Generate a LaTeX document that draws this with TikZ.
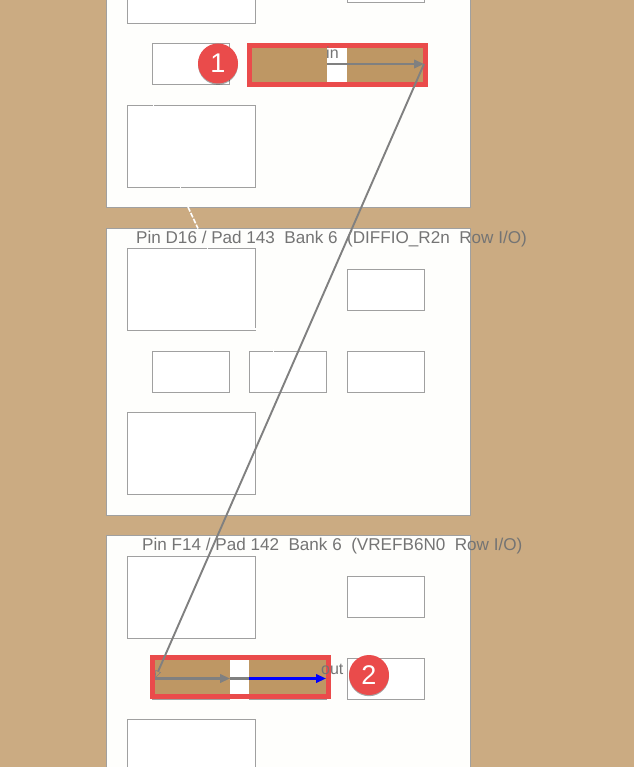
\documentclass[tikz,border=0pt]{standalone}
\usepackage{fontspec}
\setmainfont{Liberation Sans}
\usetikzlibrary{arrows.meta,shadows}
\definecolor{bgtan}{HTML}{CBAB82}
\definecolor{paneli}{HTML}{FEFEFC}
\definecolor{edge}{HTML}{A0A0A0}
\definecolor{sel}{HTML}{BE9764}
\definecolor{redb}{HTML}{EA4B4B}
\definecolor{wire}{HTML}{808080}
\definecolor{lbl}{HTML}{747474}
\tikzset{
 x=1pt,y=-1pt,
 panel/.style={draw=edge,fill=paneli,line width=.9pt},
 lab/.style={draw=edge,fill=white,line width=.9pt},
 selfill/.style={fill=sel},
 frame/.style={draw=redb,line width=5pt,miter limit=10},
 wirearrow/.style={draw=wire,line width=2.2pt,-{Triangle[length=10pt,width=8.5pt]}},
 wireplain/.style={draw=wire,line width=2.2pt},
 bluearrow/.style={draw=blue,line width=2.2pt,-{Triangle[length=10pt,width=8.5pt]}},
 diag/.style={draw=wire,line width=1.9pt},
 ghost/.style={draw=white,line width=1.6pt},
 pinlabel/.style={anchor=base west,text=lbl,font=\fontsize{17.1}{19}\selectfont,inner sep=0pt},
 portlabel/.style={anchor=base west,text=lbl,font=\fontsize{16}{18}\selectfont,inner sep=0pt},
 badge/.style={circle,fill=redb,text=white,minimum size=40pt,inner sep=0pt,font=\fontsize{27}{30}\selectfont,
   drop shadow={shadow xshift=0pt,shadow yshift=-1.2pt,opacity=.35,fill=black}},
}
\begin{document}
\begin{tikzpicture}
\useasboundingbox (0,0) rectangle (634,767);
\fill[bgtan] (0,0) rectangle (634,767);
\begin{scope}
\clip (0,0) rectangle (634,767);
% panels
\draw[panel] (106.5,-10) rectangle (470.5,207.5);
\draw[panel] (106.5,228.5) rectangle (470.5,515.5);
\draw[panel] (106.5,535.5) rectangle (470.5,780);
% top panel labs
\draw[lab] (127.5,-10) rectangle (255.5,23.5);
\draw[lab] (347.5,-10) rectangle (424.5,2.5);
\draw[lab] (152.5,43.5) rectangle (229.5,84.5);
\draw[lab] (127.5,105.5) rectangle (255.5,187.5);
% middle panel labs
\draw[lab] (127.5,248.5) rectangle (255.5,330.5);
\draw[lab] (347.5,269.5) rectangle (424.5,310.5);
\draw[lab] (152.5,351.5) rectangle (229.5,392.5);
\draw[lab] (249.5,351.5) rectangle (326.5,392.5);
\draw[lab] (347.5,351.5) rectangle (424.5,392.5);
\draw[lab] (127.5,412.5) rectangle (255.5,494.5);
% bottom panel labs
\draw[lab] (127.5,556.5) rectangle (255.5,638.5);
\draw[lab] (347.5,576.5) rectangle (424.5,617.5);
\draw[lab] (152.5,658.5) rectangle (229.5,699.5);
\draw[lab] (249.5,658.5) rectangle (326.5,699.5);
\draw[lab] (347.5,658.5) rectangle (424.5,699.5);
\draw[lab] (127.5,719.5) rectangle (255.5,780);
% faint white routing
\draw[ghost] (153.5,103) -- (153.5,107);
\draw[ghost] (180.5,185) -- (180.5,189);
\draw[ghost,dash pattern=on 5pt off 1.5pt] (188,207) -- (198,228.5);
\draw[ghost] (207.5,246) -- (207.5,250);
\draw[ghost] (255,329) -- (257,329);
\draw[ghost] (273.5,349) -- (273.5,353);
% selected fills
\fill[selfill] (250,46) rectangle (327,84);
\fill[white] (327,46) rectangle (347,84);
\fill[selfill] (347,46) rectangle (425,84);
\fill[selfill] (153,658) rectangle (230,697);
\fill[white] (230,658) rectangle (249,697);
\fill[selfill] (249,658) rectangle (326,697);
% frames
\draw[frame] (249.5,45.5) rectangle (425.5,84.5);
\draw[frame] (152.5,657.5) rectangle (328.5,696.5);
% texts
\node[pinlabel] (pinD) at (136,243) {Pin D16 / Pad 143\ \ Bank 6\ \ (DIFFIO\_R2n\ \ Row I/O)};
\node[pinlabel] (pinF) at (142,550) {Pin F14 / Pad 142\ \ Bank 6\ \ (VREFB6N0\ \ Row I/O)};
\node[portlabel] (inl) at (326,59) {in};
\node[portlabel] (outl) at (321,674) {out};
% connector anchors
\coordinate (a) at (327,64);
\coordinate (b) at (424,64);
\coordinate (c) at (155,678.5);
\coordinate (d) at (230,678.5);
\coordinate (e) at (249,678.5);
\coordinate (f) at (326,678.5);
\draw[wirearrow] (a) -- (b);
\draw[diag,-{Triangle[open,length=8pt,width=6pt,line width=.6pt]}] (b) -- (c);
\draw[wirearrow] (c) -- (d);
\draw[wireplain] (d) -- (e);
\draw[bluearrow] (e) -- (f);
% badges
\node[badge] (one) at (218,63.5) {1};
\node[badge] (two) at (369,675) {2};
\end{scope}
\end{tikzpicture}
\end{document}
